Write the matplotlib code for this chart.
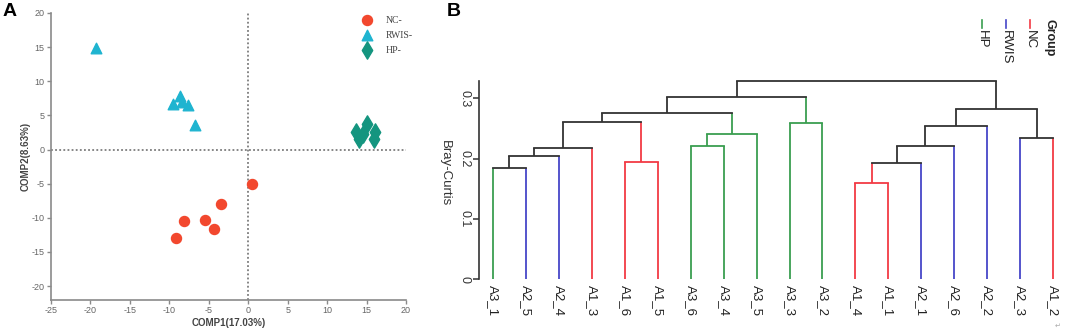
import matplotlib
matplotlib.use('Agg')
import matplotlib.pyplot as plt
from matplotlib.lines import Line2D

plt.rcParams['font.family'] = ['Liberation Sans', 'DejaVu Sans']
plt.rcParams['axes.unicode_minus'] = False

# panel A: PCA-like scores
NC_X = [0.5, -3.4, -5.5, -8.2, -4.3, -9.1]
NC_Y = [-5.1, -8.0, -10.3, -10.5, -11.7, -13.0]
RWIS_X = [-19.3, -8.7, -9.5, -8.4, -7.6, -6.7]
RWIS_Y = [14.9, 7.9, 6.6, 7.0, 6.5, 3.6]
HP_X = [13.7, 14.1, 14.6, 15.1, 16.1, 15.9]
HP_Y = [2.5, 1.6, 2.3, 3.7, 2.5, 1.5]
A_XTICKS = [-25, -20, -15, -10, -5, 0, 5, 10, 15, 20]
A_YTICKS = [-20, -15, -10, -5, 0, 5, 10, 15, 20]

# panel B: dendrogram (leaf order as drawn)
LEAVES = ['A3_1', 'A2_5', 'A2_4', 'A1_3', 'A1_6', 'A1_5', 'A3_6', 'A3_4', 'A3_5',
          'A3_3', 'A3_2', 'A1_4', 'A1_1', 'A2_1', 'A2_6', 'A2_2', 'A2_3', 'A1_2']
# merges: (child_a, child_b, height); ids < 18 are leaves, 18+ are earlier merges
MERGES = [(0, 1, 0.185), (18, 2, 0.205), (19, 3, 0.218), (4, 5, 0.195),
          (20, 21, 0.261), (6, 7, 0.221), (23, 8, 0.241), (22, 24, 0.276),
          (9, 10, 0.259), (25, 26, 0.302), (11, 12, 0.160), (28, 13, 0.193),
          (29, 14, 0.221), (30, 15, 0.254), (16, 17, 0.235), (31, 32, 0.282),
          (27, 33, 0.329)]
B_YTICKS = [0, 0.1, 0.2, 0.3]
GROUPS = ['NC', 'RWIS', 'HP']
GROUP_PREFIX = {'A1': 'NC', 'A2': 'RWIS', 'A3': 'HP'}
GROUP_COLORS = {'NC': '#f23a44', 'RWIS': '#4646c8', 'HP': '#3a9e50'}

W, H = 1065, 332
fig = plt.figure(figsize=(W / 100, H / 100), dpi=100)

# ---------------- panel A ----------------
axA = fig.add_axes([51 / W, 1 - 300 / H, 355 / W, 287 / H])
axA.axvline(0, color='#666666', ls=(0, (1.2, 1.5)), lw=1.1, zorder=1)
axA.axhline(0, color='#666666', ls=(0, (1.2, 1.5)), lw=1.1, zorder=1)
axA.scatter(NC_X, NC_Y, s=52, marker='o', color='#f2482e', label='NC-', zorder=3)
axA.scatter(RWIS_X, RWIS_Y, s=58, marker='^', color='#1fb4d0', label='RWIS-', zorder=3)
axA.scatter(HP_X, HP_Y, s=78, marker='d', color='#14957f', label='HP-', zorder=3)
axA.set_xlim(-25, 20)
axA.set_ylim(-22.05, 20)
axA.set_xticks(A_XTICKS)
axA.set_yticks(A_YTICKS)
for s in ['top', 'right']:
    axA.spines[s].set_visible(False)
for s in ['left', 'bottom']:
    axA.spines[s].set_color('#8a8a8a')
    axA.spines[s].set_linewidth(1.2)
axA.tick_params(labelsize=6.5, labelcolor='#666666', color='#8a8a8a', length=3, width=1, pad=1.5)
axA.set_xlabel('COMP1(17.03%)', fontsize=7, fontweight='bold', color='#444444', labelpad=2)
axA.set_ylabel('COMP2(8.63%)', fontsize=7, fontweight='bold', color='#444444', labelpad=1)
leg = axA.legend(loc='upper left', bbox_to_anchor=(0.875, 0.99), frameon=False,
                 prop={'family': 'Liberation Serif', 'size': 7}, handlelength=1.2,
                 handletextpad=1.3, labelspacing=0.6, borderpad=0, borderaxespad=0)
for t in leg.get_texts():
    t.set_color('#444444')
fig.text(3 / W, 1 - 12 / H, 'A', fontsize=14, fontweight='bold', va='center', ha='left')

# ---------------- panel B ----------------
axB = fig.add_axes([479 / W, 1 - 283 / H, (1063 - 479) / W, 208 / H])
n = len(LEAVES)
xpos = {i: float(i) for i in range(n)}
hgt = {i: 0.0 for i in range(n)}
grp = {i: GROUP_PREFIX[LEAVES[i][:2]] for i in range(n)}
for k, (a, b, h) in enumerate(MERGES):
    nid = n + k
    xpos[nid] = (xpos[a] + xpos[b]) / 2
    hgt[nid] = h
    grp[nid] = grp[a] if grp[a] == grp[b] else None
    for c in (a, b):
        col = GROUP_COLORS[grp[c]] if grp[c] else '#333333'
        axB.plot([xpos[c], xpos[c]], [hgt[c], h], color=col, lw=1.3, solid_capstyle='butt')
    col = GROUP_COLORS[grp[nid]] if grp[nid] else '#333333'
    axB.plot([xpos[a], xpos[b]], [h, h], color=col, lw=1.3, solid_capstyle='projecting')

axB.set_xlim(-0.425, 17.3)
axB.set_ylim(-0.0066, 0.339)
for s in ['top', 'right', 'bottom']:
    axB.spines[s].set_visible(False)
axB.spines['left'].set_bounds(0, 0.329)
axB.spines['left'].set_color('#333333')
axB.spines['left'].set_linewidth(1.2)
axB.set_yticks(B_YTICKS)
axB.set_yticklabels(['0', '0.1', '0.2', '0.3'], rotation=-90, va='center')
axB.set_xticks(range(n))
axB.set_xticklabels(LEAVES, rotation=-90, ha='center', va='top')
axB.tick_params(axis='y', labelsize=9, labelcolor='#333333', color='#333333', length=4, width=1.1, pad=2)
axB.tick_params(axis='x', labelsize=9.5, labelcolor='#222222', length=0, pad=1.5)
fig.text(445 / W, 1 - 173 / H, 'Bray-Curtis', rotation=-90, fontsize=9.5, color='#333333',
         ha='center', va='center')
fig.text(447 / W, 1 - 12 / H, 'B', fontsize=14, fontweight='bold', va='center', ha='left')

# group legend, rotated like the rest of the panel
fig.text(1050 / W, 1 - 19 / H, 'Group', rotation=-90, fontsize=9, fontweight='bold',
         color='#222222', ha='center', va='top')
for i, g in enumerate(GROUPS):
    lx = (1030 - 24 * i) / W
    fig.add_artist(Line2D([lx, lx], [1 - 20 / H, 1 - 28 / H], color=GROUP_COLORS[g], lw=1.2))
    fig.text(lx, 1 - 30 / H, g, rotation=-90, fontsize=9.5, color='#222222', ha='center', va='top')
fig.text(1058 / W, 1 - 326 / H, '\u21b5', fontsize=5, color='#aaaaaa', ha='center', va='center')

fig.savefig('out.png', dpi=100)
